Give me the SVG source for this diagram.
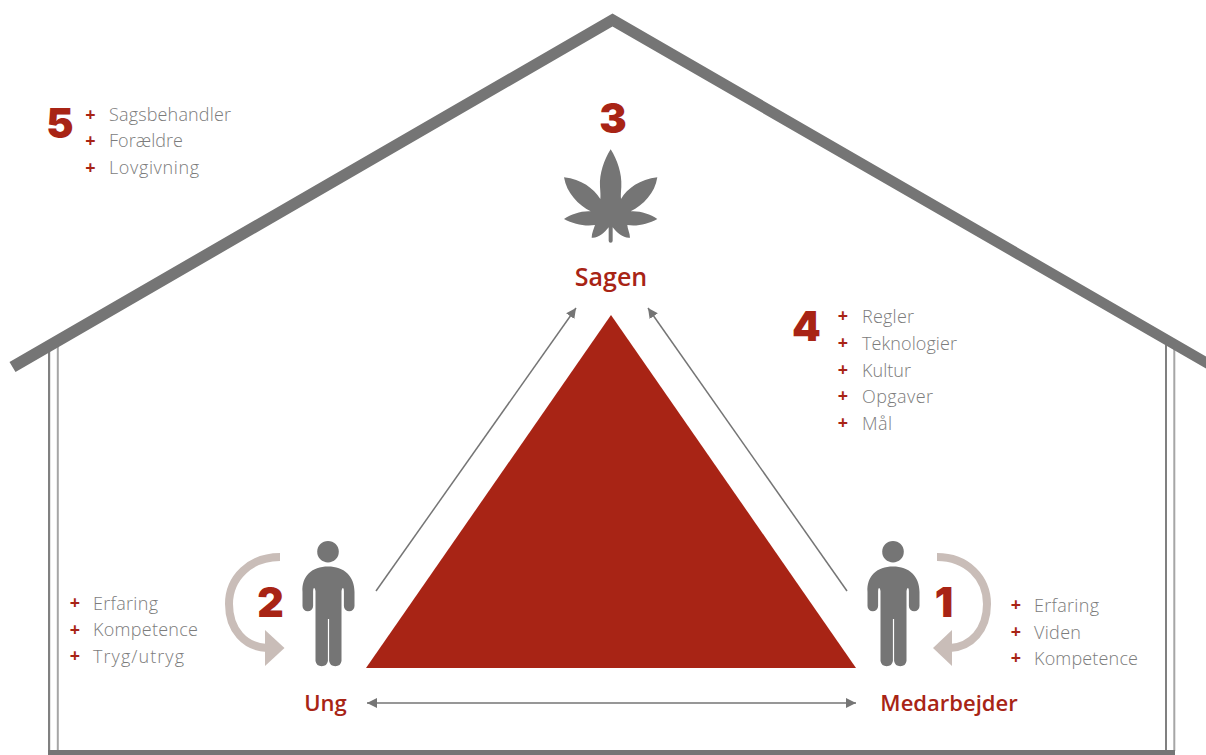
<svg xmlns="http://www.w3.org/2000/svg" width="1206" height="755" viewBox="0 0 1206 755">
<style>
.t{font-family:"Open Sans","Noto Sans",sans-serif;font-weight:300;font-size:18px;fill:#7c7c7c}
.p{font-family:"Open Sans","Noto Sans",sans-serif;font-weight:700;font-size:18px;fill:#a82415;text-anchor:middle}
.n{font-family:Inter,"Open Sans",sans-serif;font-weight:900;font-size:41px;fill:#a82415;text-anchor:middle}
.l{font-family:"Open Sans","Noto Sans",sans-serif;font-weight:600;font-size:22px;fill:#a82415;text-anchor:middle}
.g{fill:#757575}
.c{fill:#c9bdb8}
.ca{fill:none;stroke:#c9bdb8;stroke-width:8}
.a{fill:none;stroke:#757575;stroke-width:1.5;marker-end:url(#ah)}
</style>
<defs>
<marker id="ah" markerUnits="userSpaceOnUse" markerWidth="12" markerHeight="12" refX="10" refY="6" orient="auto-start-reverse"><path d="M0,1 L10,6 L0,11 Z" fill="#757575"/></marker>
<path id="person" d="M0,566.5 C16,566.5 26.5,576 26.5,592 V606 a5,5 0 0 1 -10.600,0 V591 q0,-3 -1,-3 q-1,0 -1.400,3 V661 a6.300,6.300 0 0 1 -12.400,0 V619 h-1.200 V661 a6.300,6.300 0 0 1 -12.400,0 V591 q-.400,-3 -1.400,-3 q-1,0 -1,3 V606 a5,5 0 0 1 -10.600,0 V592 C-26.500,576 -16,566.500 0,566.500 Z"/>
</defs>
<g id="house">
<rect x="48" y="345" width="2.2" height="406" fill="#808080"/>
<rect x="56.8" y="345" width="2" height="406" fill="#a6a6a6"/>
<rect x="1165" y="345" width="2" height="406" fill="#808080"/>
<rect x="1173.3" y="345" width="2" height="406" fill="#a6a6a6"/>
<rect x="48" y="750" width="1127" height="5" class="g"/>
<polygon class="g" points="612.500,13.500 1206,356.500 1206,368.500 612.500,26.500 15.500,372 9.500,362"/>
</g>
<g id="connectors">
<path class="a" d="M376,591 L576,308"/>
<path class="a" d="M847,591 L648,308"/>
<path class="a" d="M367,703 L856,703" style="marker-start:url(#ah)"/>
</g>
<g id="triangle"><polygon points="611,315 856,668 366,668" fill="#a82415"/></g>
<g id="sagen">
<text class="n" x="613" y="133">3</text>
<path class="g" transform="translate(540,90) scale(.33333)" d="M212,178 C232,210 246,250 244,290 C243,305 242,315 243,327 C262,295 300,268 352,262 C345,310 310,345 272,364 C300,362 330,372 352,387 C325,402 290,410 262,405 C262,415 270,430 270,443 C250,445 232,430 218,412 V452 a6,6 0 0 1 -12,0 V412 C192,430 175,445 155,443 C155,430 162,415 165,405 C135,410 100,402 72,387 C95,372 125,362 152,364 C115,345 80,310 72,262 C125,268 160,295 181,327 C182,315 181,305 180,290 C178,250 192,210 212,178 Z"/>
<text class="l" x="611" y="286" style="font-size:25px">Sagen</text>
</g>
<g id="ung">
<use href="#person" x="328" class="g"/>
<circle class="g" cx="328" cy="551.700" r="10.800"/>
<path class="ca" d="M280,557 C250,557 229,578 229,604 C229,630 245,647 267,648"/>
<polygon class="c" points="265,630 284.500,648 265,666"/>
<text class="n" x="270.500" y="617">2</text>
<text class="l" x="325.500" y="711">Ung</text>
</g>
<g id="medarbejder">
<use href="#person" x="893" class="g"/>
<circle class="g" cx="893" cy="551.700" r="10.800"/>
<path class="ca" d="M937,557 C967,557 987,578 987,604 C987,630 971,647 950,648"/>
<polygon class="c" points="952,630 933,648 952,666"/>
<text class="n" x="944" y="617">1</text>
<text class="l" x="949" y="711">Medarbejder</text>
</g>
<g id="list5">
<text class="n" x="60" y="138">5</text>
<text class="p" x="90.500" y="121">+</text><text class="t" x="109" y="121" textLength="122">Sagsbehandler</text>
<text class="p" x="90.500" y="147">+</text><text class="t" x="109" y="147" textLength="74">Forældre</text>
<text class="p" x="90.500" y="174">+</text><text class="t" x="109" y="174" textLength="90">Lovgivning</text>
</g>
<g id="list4">
<text class="n" x="806.500" y="341">4</text>
<text class="p" x="843" y="322">+</text><text class="t" x="862" y="323" textLength="52">Regler</text>
<text class="p" x="843" y="349">+</text><text class="t" x="862" y="350" textLength="95">Teknologier</text>
<text class="p" x="843" y="376">+</text><text class="t" x="862" y="377" textLength="49">Kultur</text>
<text class="p" x="843" y="402">+</text><text class="t" x="862" y="403" textLength="71">Opgaver</text>
<text class="p" x="843" y="429">+</text><text class="t" x="862" y="430" textLength="30">Mål</text>
</g>
<g id="list2">
<text class="p" x="75" y="609">+</text><text class="t" x="93" y="610" textLength="65">Erfaring</text>
<text class="p" x="75" y="636">+</text><text class="t" x="93" y="636" textLength="105">Kompetence</text>
<text class="p" x="75" y="662">+</text><text class="t" x="93" y="663" textLength="91">Tryg/utryg</text>
</g>
<g id="list1">
<text class="p" x="1016" y="611">+</text><text class="t" x="1034" y="612" textLength="65">Erfaring</text>
<text class="p" x="1016" y="638">+</text><text class="t" x="1034" y="639" textLength="47">Viden</text>
<text class="p" x="1016" y="664">+</text><text class="t" x="1034" y="665" textLength="104">Kompetence</text>
</g>
</svg>
